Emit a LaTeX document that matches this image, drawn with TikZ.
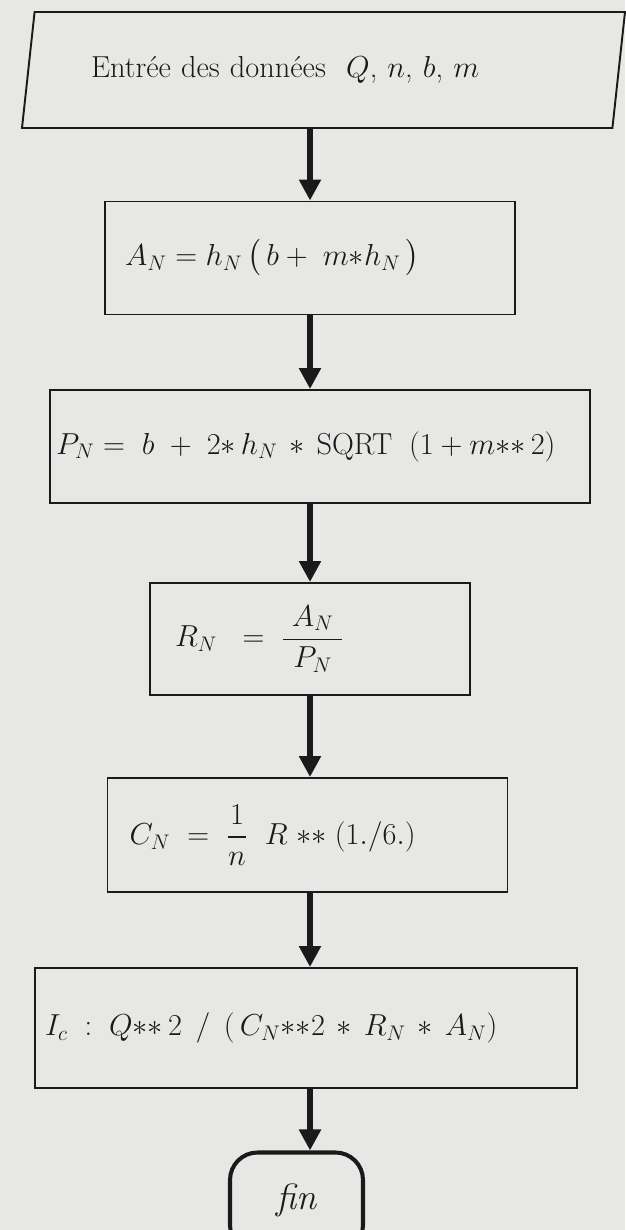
\documentclass[tikz,border=0pt]{standalone}
\usepackage{amsmath}
\usetikzlibrary{arrows.meta,shapes.geometric}
\definecolor{paper}{HTML}{E7E7E5}
\definecolor{ink}{HTML}{1A1A1A}
\newcommand{\PageW}{12.5}
\newcommand{\PageH}{24.6}
\newcommand{\Axis}{6.2}

\begin{document}
\begin{tikzpicture}[ink,
    data/.style={draw=ink, line width=1.1pt, trapezium, trapezium left angle=72, trapezium right angle=108,
      trapezium stretches body, minimum width=12.06cm, minimum height=2.32cm, text width=9.3cm, align=left, font=\LARGE},
    calcbox/.style={draw=ink, line width=1.1pt, align=left, font=\LARGE, minimum height=2.26cm},
    stop/.style={draw=ink, line width=2.3pt, rounded corners=0.55cm,
      minimum width=2.66cm, minimum height=2cm, font=\huge},
    flow/.style={-{Triangle[length=0.42cm,width=0.42cm]}, line width=3.4pt, draw=ink},
  ]
% --- Page ---------------------------------------------------------------------
\useasboundingbox (0,0) rectangle (\PageW,-\PageH);
\fill[paper] (0,0) rectangle (\PageW,-\PageH);
\coordinate (axis) at (\Axis,0);

% --- Input --------------------------------------------------------------------
\node[data] (entree) at (6.47,-1.4) {Entrée des données \ $Q$, $n$, $b$, $m$};

% --- Steps: box width = text width + 2 inner xsep -----------------------------
\node[calcbox, text width=7.4cm, inner xsep=0.4cm] (aire) at (6.2,-5.16)
  {$A_N = h_N\,\bigl(\,b + \; m{*}h_N\,\bigr)$};
\node[calcbox, text width=10.56cm, inner xsep=0.12cm] (perim) at (6.4,-8.93)
  {$P_N = \;b \;+\; 2{*}\,h_N \,*\, \mathrm{SQRT}\;\;(1 + m{*}{*}\,2)$};
\node[calcbox, text width=5.4cm, inner xsep=0.5cm, minimum height=2.24cm] (rayon) at (6.2,-12.78)
  {$R_N \;\;=\; \dfrac{\;A_N\;}{P_N}$};
\node[calcbox, text width=7.12cm, inner xsep=0.44cm, minimum height=2.28cm] (chezy) at (6.15,-16.7)
  {$C_N \;=\; \dfrac{1}{n}\;\; R \;{*}{*}\; (1./6.)$};
\node[calcbox, text width=10.44cm, inner xsep=0.2cm, minimum height=2.4cm] (pente) at (6.12,-20.56)
  {$I_c \;:\; Q{*}{*}\,2 \;\,/\,\; (\,C_N{*}{*}2 \,*\, R_N \,*\, A_N)$};

% --- End ----------------------------------------------------------------------
\node[stop] (fin) at (5.93,-24.05) {\raisebox{0.25cm}{\textit{fin}}};

% --- Flow ---------------------------------------------------------------------
\foreach \a/\b in {entree/aire, aire/perim, perim/rayon, rayon/chezy, chezy/pente, pente/fin}
  \draw[flow] (\a.south -| axis) -- (\b.north -| axis);
\end{tikzpicture}
\end{document}
